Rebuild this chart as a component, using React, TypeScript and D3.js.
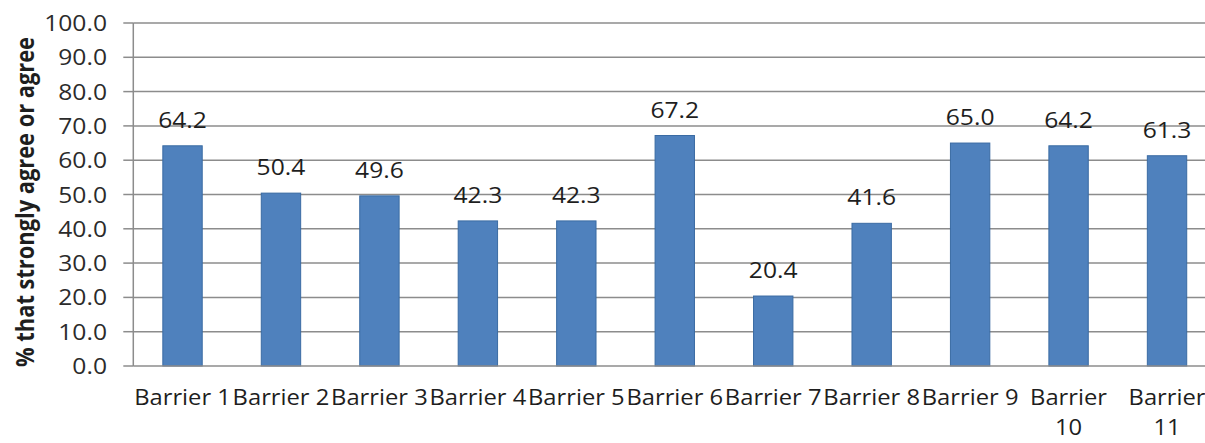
import React, { useEffect, useRef } from "react";
import * as d3 from "d3";

const categories = [
  "Barrier 1", "Barrier 2", "Barrier 3", "Barrier 4", "Barrier 5", "Barrier 6",
  "Barrier 7", "Barrier 8", "Barrier 9", "Barrier 10", "Barrier 11",
];
const values = [64.2, 50.4, 49.6, 42.3, 42.3, 67.2, 20.4, 41.6, 65.0, 64.2, 61.3];
const yTicks = [0, 10, 20, 30, 40, 50, 60, 70, 80, 90, 100];
const yTitle = "% that strongly agree or agree";

const W = 1205;
const H = 443;
const FONT = "'Open Sans', Lato, sans-serif";
const FS = 22;
const SX_NUM = 1.12; // horizontal stretch of numeric labels
const SX_CAT = 1.08; // horizontal stretch of category labels
const TITLE_LEN = 330; // run length of the rotated axis title

export default function App() {
  const ref = useRef<SVGSVGElement>(null);

  useEffect(() => {
    const svg = d3.select(ref.current);
    svg.selectAll("*").remove();

    const left = 133.3;
    const step = 98.45;
    const top = 23;
    const bottom = 366;

    const x = d3
      .scaleBand<string>()
      .domain(categories)
      .range([left, left + step * categories.length])
      .paddingInner(0.6)
      .paddingOuter(0.3);
    const y = d3.scaleLinear().domain([0, 100]).range([bottom, top]);

    // horizontal gridlines
    svg
      .append("g")
      .selectAll("line")
      .data(yTicks.filter((t) => t > 0))
      .join("line")
      .attr("x1", left)
      .attr("x2", W)
      .attr("y1", (d) => y(d))
      .attr("y2", (d) => y(d))
      .attr("stroke", "#8c8c8c")
      .attr("stroke-width", 1.5);

    // bars
    svg
      .append("g")
      .selectAll("rect")
      .data(values)
      .join("rect")
      .attr("x", (_, i) => x(categories[i])!)
      .attr("width", x.bandwidth())
      .attr("y", (d) => y(d))
      .attr("height", (d) => bottom - y(d))
      .attr("fill", "#4f81bd")
      .attr("stroke", "#3a6ba3")
      .attr("stroke-width", 1);

    // axes
    const axisG = svg.append("g");
    axisG
      .append("line")
      .attr("x1", left)
      .attr("x2", left)
      .attr("y1", top)
      .attr("y2", bottom)
      .attr("stroke", "#8c8c8c")
      .attr("stroke-width", 1.5);
    axisG
      .append("line")
      .attr("x1", left)
      .attr("x2", W)
      .attr("y1", bottom)
      .attr("y2", bottom)
      .attr("stroke", "#8c8c8c")
      .attr("stroke-width", 1.5);
    axisG
      .selectAll("line.tick")
      .data(yTicks)
      .join("line")
      .attr("class", "tick")
      .attr("x1", left - 10)
      .attr("x2", left)
      .attr("y1", (d) => y(d))
      .attr("y2", (d) => y(d))
      .attr("stroke", "#8c8c8c")
      .attr("stroke-width", 1.5);

    const fmt = d3.format(".1f");

    // y tick labels
    svg
      .append("g")
      .selectAll("text")
      .data(yTicks)
      .join("text")
      .attr("transform", (d) => `translate(107,${y(d) + 8}) scale(${SX_NUM},1)`)
      .attr("text-anchor", "end")
      .attr("font-family", FONT)
      .attr("font-size", FS)
      .attr("fill", "#2b2b2b")
      .text((d) => fmt(d));

    // value labels
    svg
      .append("g")
      .selectAll("text")
      .data(values)
      .join("text")
      .attr(
        "transform",
        (d, i) =>
          `translate(${x(categories[i])! + x.bandwidth() / 2},${y(d) - 18}) scale(${SX_NUM},1)`
      )
      .attr("text-anchor", "middle")
      .attr("font-family", FONT)
      .attr("font-size", FS)
      .attr("fill", "#1e1e1e")
      .text((d) => fmt(d));

    // category labels, wrapped to the band step
    const catG = svg.append("g");
    categories.forEach((c) => {
      const cx = x(c)! + x.bandwidth() / 2;
      const t = catG
        .append("text")
        .attr("transform", `translate(${cx},405) scale(${SX_CAT},1)`)
        .attr("text-anchor", "middle")
        .attr("font-family", FONT)
        .attr("font-size", FS)
        .attr("fill", "#1e1e1e")
        .text(c);
      const len = (t.node() as SVGTextElement).getComputedTextLength() * SX_CAT;
      if (len > step + 2) {
        t.text(null);
        c.split(" ").forEach((w, k) => {
          t.append("tspan")
            .attr("x", 0)
            .attr("dy", k === 0 ? 0 : 30)
            .text(w);
        });
      }
    });

    // y axis title, condensed along its run to fit the plot height
    const title = svg
      .append("text")
      .attr("text-anchor", "middle")
      .attr("font-family", FONT)
      .attr("font-weight", "bold")
      .attr("font-size", 25)
      .attr("fill", "#1e1e1e")
      .text(yTitle);
    const natural = (title.node() as SVGTextElement).getComputedTextLength();
    const k = natural > 0 ? TITLE_LEN / natural : 1;
    title.attr("transform", `translate(34,202) rotate(-90) scale(${k},1)`);
  }, []);

  return (
    <svg
      ref={ref}
      width={W}
      height={H}
      style={{ position: "absolute", left: 0, top: 0, background: "#fff" }}
    />
  );
}
